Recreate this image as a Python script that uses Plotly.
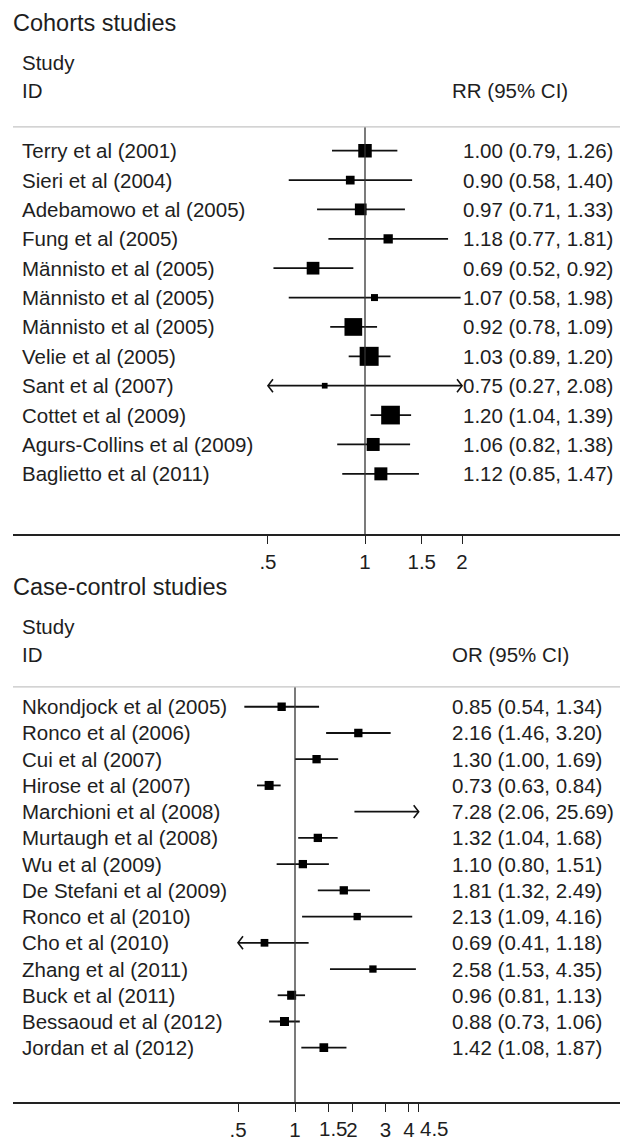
import math
import plotly.graph_objects as go

# ---------------- data ----------------
cohort_studies = ["Terry et al (2001)", "Sieri et al (2004)", "Adebamowo et al (2005)",
                  "Fung et al (2005)", "Männisto et al (2005)", "Männisto et al (2005)",
                  "Männisto et al (2005)", "Velie et al (2005)", "Sant et al (2007)",
                  "Cottet et al (2009)", "Agurs-Collins et al (2009)", "Baglietto et al (2011)"]
cohort_rr = [1.00, 0.90, 0.97, 1.18, 0.69, 1.07, 0.92, 1.03, 0.75, 1.20, 1.06, 1.12]
cohort_lo = [0.79, 0.58, 0.71, 0.77, 0.52, 0.58, 0.78, 0.89, 0.27, 1.04, 0.82, 0.85]
cohort_hi = [1.26, 1.40, 1.33, 1.81, 0.92, 1.98, 1.09, 1.20, 2.08, 1.39, 1.38, 1.47]
cohort_weight_box = [13.5, 8.7, 11.7, 9.3, 12.7, 7.0, 17.7, 19.0, 5.7, 18.7, 13.0, 13.0]
cohort_ticks = [0.5, 1, 1.5, 2]
cohort_ticklabels = [".5", "1", "1.5", "2"]

cc_studies = ["Nkondjock et al (2005)", "Ronco et al (2006)", "Cui et al (2007)",
              "Hirose et al (2007)", "Marchioni et al (2008)", "Murtaugh et al (2008)",
              "Wu et al (2009)", "De Stefani et al (2009)", "Ronco et al (2010)",
              "Cho et al (2010)", "Zhang et al (2011)", "Buck et al (2011)",
              "Bessaoud et al (2012)", "Jordan et al (2012)"]
cc_or = [0.85, 2.16, 1.30, 0.73, 7.28, 1.32, 1.10, 1.81, 2.13, 0.69, 2.58, 0.96, 0.88, 1.42]
cc_lo = [0.54, 1.46, 1.00, 0.63, 2.06, 1.04, 0.80, 1.32, 1.09, 0.41, 1.53, 0.81, 0.73, 1.08]
cc_hi = [1.34, 3.20, 1.69, 0.84, 25.69, 1.68, 1.51, 2.49, 4.16, 1.18, 4.35, 1.13, 1.06, 1.87]
cc_weight_box = [8.3, 8.3, 8.3, 9.0, 8.0, 8.3, 8.3, 8.3, 7.3, 7.7, 7.3, 9.0, 9.0, 8.7]
cc_ticks = [0.5, 1, 1.5, 2, 3, 4, 4.5]
cc_ticklabels = [".5", "1", "1.5", "2", "3", "4", "4.5"]

# ---------------- layout constants (pixels) ----------------
W, H = 620, 1141
FONT = "Liberation Sans, Arial, Helvetica, sans-serif"
TXT = "#1e1e1e"
FS = 20.5
X_LEFT = 13

panels = [
    dict(studies=cohort_studies, est=cohort_rr, lo=cohort_lo, hi=cohort_hi, box=cohort_weight_box,
         ticks=cohort_ticks, ticklabels=cohort_ticklabels, label_shift={},
         clip=(0.5, 2.0),
         one_px=365, px_per_ln=140.0, title="Cohorts studies", hdr="RR (95% CI)",
         title_y=23, study_y=63, id_y=91, sep_y=128, row0=152, row_step=29.64, axis_y=539,
         ci_x=461, hdr_x=450),
    dict(studies=cc_studies, est=cc_or, lo=cc_lo, hi=cc_hi, box=cc_weight_box,
         ticks=cc_ticks, ticklabels=cc_ticklabels, label_shift={2: 5, 6: 16},
         clip=(0.5, 4.5),
         one_px=295, px_per_ln=82.23, title="Case-control studies", hdr="OR (95% CI)",
         title_y=592, study_y=632, id_y=660, sep_y=693, row0=713, row_step=26.46, axis_y=1112,
         ci_x=450, hdr_x=450),
]

fig = go.Figure()
annotations = []
shapes = []
layout_axes = {}


def py(px):
    return 1 - px / H


for k, p in enumerate(panels):
    sfx = "" if k == 0 else str(k + 1)
    xa, ya = "x" + sfx, "y" + sfx
    px_per_dec = p["px_per_ln"] * math.log(10)
    xr = [(X_LEFT - p["one_px"]) / px_per_dec, (W - p["one_px"]) / px_per_dec]
    y_top = -(p["row0"] - p["sep_y"]) / p["row_step"]
    y_bot = (p["axis_y"] - p["row0"]) / p["row_step"]
    # labels that need a nudge to avoid crowding are drawn as annotations below
    ticktext = ["" if j in p["label_shift"] else t for j, t in enumerate(p["ticklabels"])]
    layout_axes["xaxis" + sfx] = dict(
        domain=[X_LEFT / W, 1], anchor=ya, type="log", range=xr,
        tickmode="array", tickvals=p["ticks"], ticktext=ticktext, tickangle=0,
        ticks="outside", ticklen=8, tickwidth=1.2, tickcolor="#222",
        showline=True, linecolor="#222", linewidth=1.6, showgrid=False, zeroline=False,
        tickfont=dict(family=FONT, size=FS, color=TXT), fixedrange=True)
    layout_axes["yaxis" + sfx] = dict(
        domain=[py(p["axis_y"]), py(p["sep_y"])], anchor=xa, range=[y_bot, y_top],
        visible=False, showgrid=False, zeroline=False, fixedrange=True)
    for j, shift in p["label_shift"].items():
        annotations.append(dict(text=p["ticklabels"][j], x=math.log10(p["ticks"][j]),
                                y=py(p["axis_y"] + 26), xref=xa, yref="paper",
                                xanchor="center", yanchor="middle", xshift=shift,
                                showarrow=False,
                                font=dict(family=FONT, size=FS, color=TXT)))

    cl, ch = p["clip"]
    n = len(p["studies"])
    # CI lines (clipped)
    lx, lyy = [], []
    for i in range(n):
        a = max(p["lo"][i], cl)
        b = min(p["hi"][i], ch)
        lx += [a, b, None]
        lyy += [i, i, None]
    fig.add_trace(go.Scatter(x=lx, y=lyy, xaxis=xa, yaxis=ya, mode="lines",
                             line=dict(color="#111", width=1.8), hoverinfo="skip",
                             showlegend=False))
    # arrows (open chevrons) where CI exceeds the clip range
    f = 10 ** (5.0 / px_per_dec)
    dy = 6.5 / p["row_step"]
    ax_, ay_ = [], []
    for i in range(n):
        if p["lo"][i] < cl:
            ax_ += [cl * f, cl, cl * f, None]
            ay_ += [i - dy, i, i + dy, None]
        if p["hi"][i] > ch:
            ax_ += [ch / f, ch, ch / f, None]
            ay_ += [i - dy, i, i + dy, None]
    if ax_:
        fig.add_trace(go.Scatter(x=ax_, y=ay_, xaxis=xa, yaxis=ya, mode="lines",
                                 line=dict(color="#111", width=1.6), hoverinfo="skip",
                                 showlegend=False))
    # point estimates as weighted boxes (only if within plotted range)
    mx, my, ms = [], [], []
    for i in range(n):
        if cl <= p["est"][i] <= ch:
            mx.append(p["est"][i]); my.append(i); ms.append(p["box"][i])
    fig.add_trace(go.Scatter(x=mx, y=my, xaxis=xa, yaxis=ya, mode="markers",
                             marker=dict(symbol="square", size=ms, color="#000",
                                         opacity=1, line=dict(width=0)),
                             hoverinfo="skip", showlegend=False))
    # reference line at 1
    shapes.append(dict(type="line", xref=xa, yref=ya + " domain", x0=1, x1=1, y0=0, y1=1,
                       line=dict(color="#333", width=1.3), layer="above"))
    # header separator
    shapes.append(dict(type="line", xref="paper", yref="paper", x0=X_LEFT / W, x1=1,
                       y0=py(p["sep_y"]), y1=py(p["sep_y"]),
                       line=dict(color="#c4c4c4", width=1.2)))

    # texts
    def ann(text, xpx, ypaper, size=FS, yref="paper"):
        annotations.append(dict(text=text, x=xpx / W, y=ypaper, xref="paper", yref=yref,
                                xanchor="left", yanchor="middle", showarrow=False,
                                font=dict(family=FONT, size=size, color=TXT)))
    ann(p["title"], X_LEFT - 2, py(p["title_y"]), size=23.5)
    ann("Study", 20, py(p["study_y"]))
    ann("ID", 20, py(p["id_y"]))
    ann(p["hdr"], p["hdr_x"], py(p["id_y"]))
    for i in range(n):
        ann(p["studies"][i], 20, i, yref=ya)
        ann("{:.2f} ({:.2f}, {:.2f})".format(p["est"][i], p["lo"][i], p["hi"][i]),
            p["ci_x"], i, yref=ya)

fig.update_layout(
    width=W, height=H, margin=dict(l=0, r=0, t=0, b=0),
    paper_bgcolor="white", plot_bgcolor="white",
    showlegend=False, annotations=annotations, shapes=shapes,
    **layout_axes)

fig.write_html("out.html")
